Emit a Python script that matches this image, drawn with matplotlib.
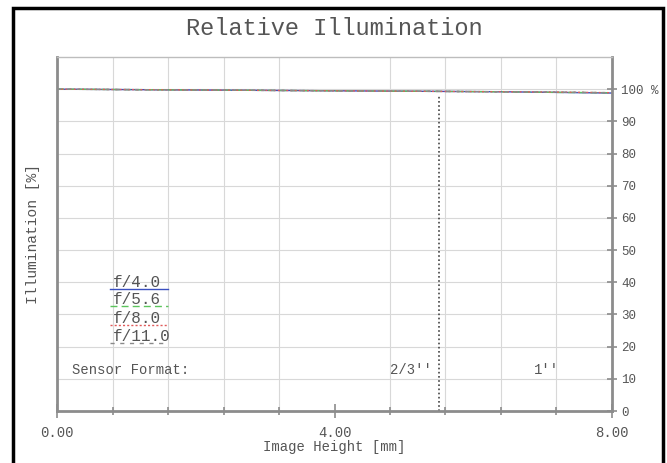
import matplotlib.pyplot as plt
from matplotlib.patches import Rectangle

# image height [mm] and relative illumination [%] per aperture
image_height = [0.0, 0.8, 1.6, 2.4, 3.2, 4.0, 4.8, 5.6, 6.4, 7.2, 8.0]
illum_f40 = [100.0, 99.9, 99.8, 99.7, 99.6, 99.5, 99.4, 99.3, 99.2, 99.0, 98.8]
illum_f56 = [100.0, 99.9, 99.8, 99.7, 99.6, 99.5, 99.4, 99.3, 99.2, 99.0, 98.9]
illum_f80 = [100.0, 99.9, 99.8, 99.7, 99.6, 99.5, 99.4, 99.3, 99.2, 99.1, 98.9]
illum_f110 = [100.0, 99.9, 99.8, 99.7, 99.6, 99.5, 99.4, 99.3, 99.2, 99.1, 98.9]
labels = ["f/4.0", "f/5.6", "f/8.0", "f/11.0"]

sensor_names = ["2/3''", "1''"]
sensor_pos = [5.5, 8.0]

y_ticks = [0, 10, 20, 30, 40, 50, 60, 70, 80, 90, 100]
y_ticklabels = ["0", "10", "20", "30", "40", "50", "60", "70", "80", "90", "100 %"]

FONT = "Liberation Mono"
TXT = "#555555"
SPINE = "#8c8c8c"

fig = plt.figure(figsize=(6.67, 4.63), dpi=100)
ax = fig.add_axes([0.0855, 0.1123, 0.832, 0.7646])

series = [illum_f40, illum_f56, illum_f80, illum_f110]
colors = ["#3a4fc0", "#5cc45c", "#e05a5a", "#8a8a8a"]
styles = ["-", (0, (5, 3)), (0, (1.5, 1.5)), (0, (3, 4))]
for vals, c, ls in zip(series, colors, styles):
    ax.plot(image_height, vals, color=c, linestyle=ls, linewidth=1.0)

ax.set_xlim(0, 8)
ax.set_ylim(0, 110)

# grid
ax.set_xticks([i * 0.8 for i in range(11)], minor=True)
ax.set_xticks([0, 4, 8])
ax.set_xticklabels(["0.00", "4.00", "8.00"], fontfamily=FONT, fontsize=10, color=TXT)
ax.grid(True, which="minor", axis="x", color="#d8d8d8", linewidth=0.8)
ax.set_yticks(y_ticks)
ax.grid(True, which="major", axis="y", color="#d8d8d8", linewidth=0.8)
ax.tick_params(axis="x", which="both", direction="inout", length=6, color=SPINE, width=1.2, pad=6)
ax.tick_params(axis="x", which="major", length=10)

ax.yaxis.tick_right()
ax.set_yticklabels(y_ticklabels, fontfamily=FONT, fontsize=9, color=TXT)
ax.tick_params(axis="y", direction="inout", length=7, color=SPINE, width=1.2, pad=3)

for side in ["left", "bottom", "right"]:
    ax.spines[side].set_color(SPINE)
    ax.spines[side].set_linewidth(2.0)
ax.spines["top"].set_color("#bdbdbd")
ax.spines["top"].set_linewidth(1.0)

# sensor format marker
ax.vlines(sensor_pos[0], 0, 98, colors="#444444", linestyles=(0, (1, 1.5)), linewidth=1.2)
ax.text(0.22, 12.7, "Sensor Format:", fontfamily=FONT, fontsize=10, color=TXT, va="center")
ax.text(sensor_pos[0] - 0.1, 12.7, sensor_names[0], fontfamily=FONT, fontsize=10, color=TXT,
        va="center", ha="right")
ax.text(7.05, 12.7, sensor_names[1], fontfamily=FONT, fontsize=10, color=TXT, va="center", ha="center")

# legend written as underlined labels
label_y = [40, 34.5, 28.7, 23]
for lab, ly, c, ls in zip(labels, label_y, colors, styles):
    ax.text(0.8, ly, lab, fontfamily=FONT, fontsize=11.5, color=TXT, va="center")
    ax.plot([0.77, 1.6], [ly - 2.0, ly - 2.0], color=c, linestyle=ls, linewidth=1.0)

ax.set_xlabel("Image Height [mm]", fontfamily=FONT, fontsize=10, color=TXT, labelpad=0)
ax.set_ylabel("Illumination [%]", fontfamily=FONT, fontsize=10.5, color=TXT, labelpad=12)
ax.set_title("Relative Illumination", fontfamily=FONT, fontsize=17, color=TXT, pad=16)

fig.patches.append(Rectangle((0.0195, -0.01), 0.975, 0.993, transform=fig.transFigure,
                             fill=False, edgecolor="black", linewidth=2.5))

fig.savefig("out.png", dpi=100)
